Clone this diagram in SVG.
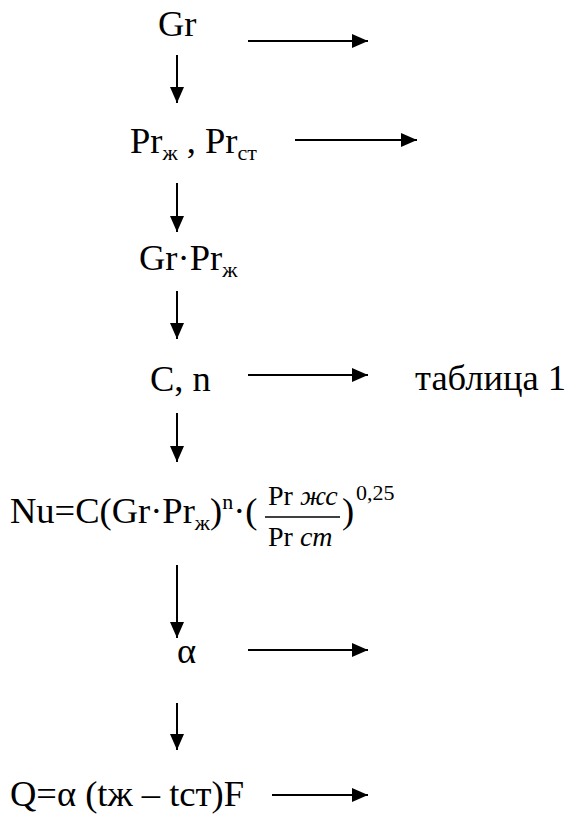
<svg xmlns="http://www.w3.org/2000/svg" width="570" height="816" viewBox="0 0 570 816">
<style>
.c line{stroke:#000;stroke-width:2}
</style>
<defs>
<marker id="ah" markerUnits="userSpaceOnUse" markerWidth="16" markerHeight="14" refX="16" refY="7" orient="auto">
<path d="M0,0 L16,7 L0,14 z" fill="#000"/>
</marker>
</defs>
<rect width="570" height="816" fill="#fff"/>
<g id="n-gr"><text x="158" y="36" font-family="Times New Roman, Liberation Serif, serif" font-size="36.5">Gr</text></g>
<g id="n-pr"><text x="130" y="153" font-family="Times New Roman, Liberation Serif, serif" font-size="36.5">Pr<tspan font-size="22" dy="7">ж</tspan><tspan dy="-7"> , Pr</tspan><tspan font-size="22" dy="7">ст</tspan></text></g>
<g id="n-grpr"><text x="139" y="270" font-family="Times New Roman, Liberation Serif, serif" font-size="36.5">Gr·Pr<tspan font-size="22" dy="7">ж</tspan></text></g>
<g id="n-cn"><text x="150" y="391" font-family="Times New Roman, Liberation Serif, serif" font-size="36.5">C, n</text></g>
<g id="n-tab"><text x="415" y="390" font-family="Times New Roman, Liberation Serif, serif" font-size="36.5">таблица 1</text></g>
<g id="n-nu">
<text x="10" y="523" font-family="Times New Roman, Liberation Serif, serif" font-size="36.5">Nu=C(Gr·Pr<tspan font-size="22" dy="7">ж</tspan><tspan dy="-7">)</tspan><tspan font-size="22" dy="-14">n</tspan><tspan dy="14">·(</tspan></text>
<text x="268" y="505" font-family="Times New Roman, Liberation Serif, serif" font-size="28">Pr <tspan font-style="italic">жс</tspan></text>
<line x1="265" y1="517" x2="340" y2="517" stroke="#000" stroke-width="1.5"/>
<text x="268" y="546" font-family="Times New Roman, Liberation Serif, serif" font-size="28">Pr <tspan font-style="italic">cm</tspan></text>
<text x="342" y="523" font-family="Times New Roman, Liberation Serif, serif" font-size="36.5">)</text>
<text x="356" y="500" font-family="Times New Roman, Liberation Serif, serif" font-size="22">0,25</text>
</g>
<g id="n-alpha"><text x="177" y="663" font-family="Times New Roman, Liberation Serif, serif" font-size="36.5">α</text></g>
<g id="n-q"><text x="10" y="806" font-family="Times New Roman, Liberation Serif, serif" font-size="36.5">Q=α (tж – tст)F</text></g>
<g class="c" id="connectors">
<line x1="248" y1="41" x2="368" y2="41" marker-end="url(#ah)"/>
<line x1="177" y1="55" x2="177" y2="103" marker-end="url(#ah)"/>
<line x1="295" y1="140" x2="417" y2="140" marker-end="url(#ah)"/>
<line x1="177" y1="183" x2="177" y2="232" marker-end="url(#ah)"/>
<line x1="177" y1="291" x2="177" y2="339" marker-end="url(#ah)"/>
<line x1="248" y1="375" x2="368" y2="375" marker-end="url(#ah)"/>
<line x1="177" y1="413" x2="177" y2="462" marker-end="url(#ah)"/>
<line x1="177" y1="565" x2="177" y2="638" marker-end="url(#ah)"/>
<line x1="248" y1="650" x2="368" y2="650" marker-end="url(#ah)"/>
<line x1="177" y1="703" x2="177" y2="750" marker-end="url(#ah)"/>
<line x1="272" y1="795" x2="368" y2="795" marker-end="url(#ah)"/>
</g>
</svg>
